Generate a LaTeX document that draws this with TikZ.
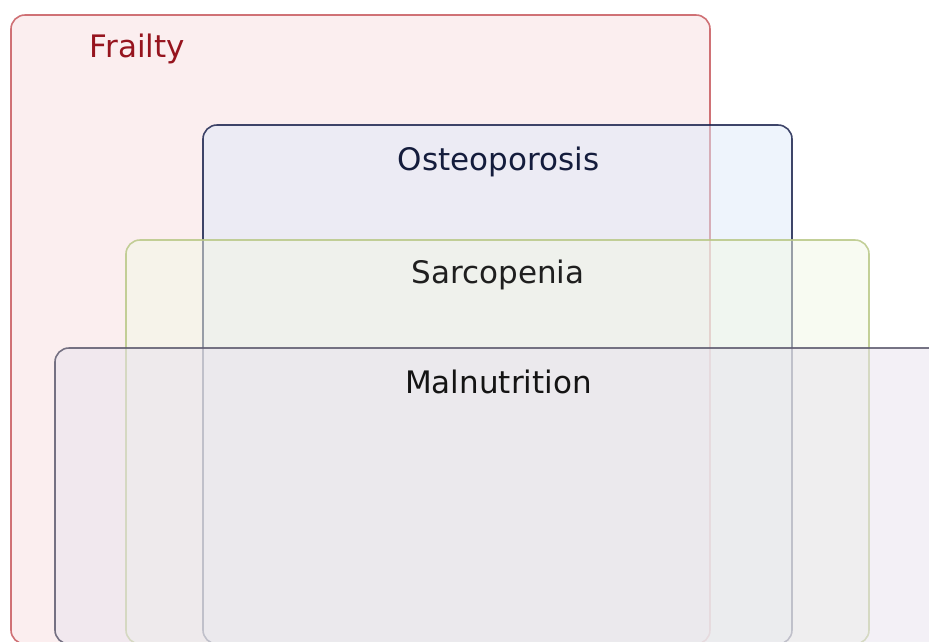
\documentclass[tikz,border=0pt]{standalone}
\usepackage{fontspec}
\setmainfont{DejaVu Sans}
\definecolor{frailfill}{RGB}{249,222,224}
\definecolor{frailline}{RGB}{200,90,95}
\definecolor{frailtext}{RGB}{150,20,30}
\definecolor{osteofill}{RGB}{222,234,250}
\definecolor{osteoline}{RGB}{30,38,80}
\definecolor{osteotext}{RGB}{20,28,60}
\definecolor{sarcofill}{RGB}{243,248,230}
\definecolor{sarcoline}{RGB}{185,200,135}
\definecolor{malfill}{RGB}{232,227,238}
\definecolor{malline}{RGB}{95,92,112}
\begin{document}
\begin{tikzpicture}[x=1pt,y=-1pt,
  region/.style={rectangle, rounded corners=14pt, line width=1.6pt, inner sep=0pt,
                 fill opacity=0.5, draw opacity=0.85},
  lbl/.style={anchor=base, font=\fontsize{31}{37}\selectfont}]
\useasboundingbox (0,0) rectangle (929,641);
\fill[white] (0,0) rectangle (929,641);
\node[region, draw=frailline, fill=frailfill, minimum width=699pt, minimum height=629pt] (frailty) at (360.5,329.5) {};
\node[region, draw=osteoline, fill=osteofill, minimum width=589pt, minimum height=519pt] (osteo) at (497.5,384.5) {};
\node[region, draw=sarcoline, fill=sarcofill, minimum width=743pt, minimum height=404pt] (sarco) at (497.5,442) {};
\node[region, draw=malline, fill=malfill, minimum width=890pt, minimum height=296pt] (malnut) at (500,496) {};
\node[lbl, text=frailtext] (tfrailty) at (137.5,57) {Frailty};
\node[lbl, text=osteotext] (tosteo) at (498.5,170) {Osteoporosis};
\node[lbl, text=black!88] (tsarco) at (498,283) {Sarcopenia};
\node[lbl, text=black!92] (tmalnut) at (498.5,393) {Malnutrition};
\end{tikzpicture}
\end{document}
